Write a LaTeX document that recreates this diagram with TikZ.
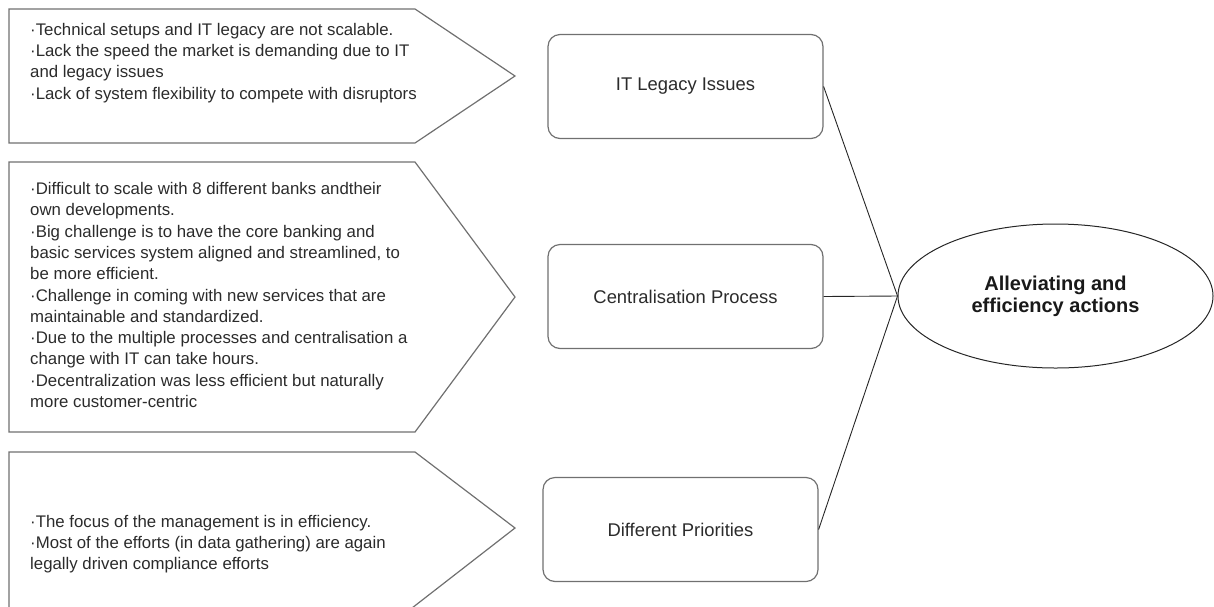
\documentclass[tikz,border=0pt]{standalone}
\usepackage{fontspec}
\setmainfont{Liberation Sans}
\usetikzlibrary{shapes.geometric}
\definecolor{edgegray}{HTML}{707070}
\definecolor{txtgray}{HTML}{2B2B2B}
\tikzset{
  arrowshape/.style={draw=edgegray, line width=1.2pt, line join=miter},
  notes/.style={align=left, anchor=west, inner sep=0pt, text=txtgray,
    font=\fontsize{16.8}{21.3}\selectfont},
  issuebox/.style={draw=edgegray, line width=1.2pt, rounded corners=12pt,
    minimum width=275pt, minimum height=104pt, inner sep=0pt, text=txtgray,
    font=\fontsize{18.4}{22}\selectfont},
  goal/.style={ellipse, draw=black!85, line width=1pt, minimum width=315pt,
    minimum height=144pt, inner sep=0pt, align=center, text=black!90,
    font=\fontsize{20}{22}\selectfont\bfseries},
  link/.style={draw=black!85, line width=0.9pt}
}
\begin{document}
\begin{tikzpicture}[x=1pt, y=-1pt]
\useasboundingbox (0,0) rectangle (1214,606);
\clip (0,0) rectangle (1214,606);

% arrow-shaped note panels (the last one runs past the lower edge)
\draw[arrowshape] (9,9) -- (415,9) -- (515,76) -- (415,143) -- (9,143) -- cycle;
\draw[arrowshape] (9,162) -- (415,162) -- (515,297) -- (415,432) -- (9,432) -- cycle;
\draw[arrowshape] (9,452) -- (415,452) -- (515,528) -- (412,608) -- (9,608) -- cycle;

\node[notes] (n1) at (30,63) {·Technical setups and IT legacy are not scalable.\\
·Lack the speed the market is demanding due to IT\\
and legacy issues\\
·Lack of system flexibility to compete with disruptors};

\node[notes] (n2) at (30,295) {·Difficult to scale with 8 different banks andtheir\\
own developments.\\
·Big challenge is to have the core banking and\\
basic services system aligned and streamlined, to\\
be more efficient.\\
·Challenge in coming with new services that are\\
maintainable and standardized.\\
·Due to the multiple processes and centralisation a\\
change with IT can take hours.\\
·Decentralization was less efficient but naturally\\
more customer-centric};

\node[notes] (n3) at (30,544) {·The focus of the management is in efficiency.\\
·Most of the efforts (in data gathering) are again\\
legally driven compliance efforts};

% issue boxes
\node[issuebox] (r1) at (685.5,86.5) {IT Legacy Issues};
\node[issuebox] (r2) at (685.5,296.5) {Centralisation Process};
\node[issuebox] (r3) at (680.5,529.5) {Different Priorities};

% central goal
\node[goal] (goal) at (1055.5,296) {Alleviating and\\efficiency actions};

% connectors
\draw[link] (r1.east) -- (goal.west);
\draw[link] (r2.east) -- (goal.west);
\draw[link] (r3.east) -- (goal.west);
\end{tikzpicture}
\end{document}
